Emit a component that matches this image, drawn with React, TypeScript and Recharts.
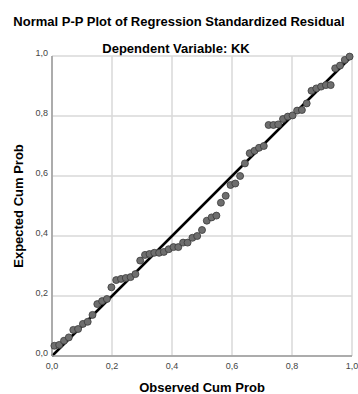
import { ScatterChart, Scatter, XAxis, YAxis, CartesianGrid, ReferenceLine, Label } from 'recharts';

const observedCumProb = [
  0.008, 0.024, 0.040, 0.056, 0.071, 0.087, 0.103, 0.119, 0.135, 0.151,
  0.167, 0.183, 0.198, 0.214, 0.230, 0.246, 0.262, 0.278, 0.294, 0.310,
  0.325, 0.341, 0.357, 0.373, 0.389, 0.405, 0.421, 0.437, 0.452, 0.468,
  0.484, 0.500, 0.516, 0.532, 0.548, 0.563, 0.579, 0.595, 0.611, 0.627,
  0.643, 0.659, 0.675, 0.690, 0.706, 0.722, 0.738, 0.754, 0.770, 0.786,
  0.802, 0.817, 0.833, 0.849, 0.865, 0.881, 0.897, 0.913, 0.929, 0.944,
  0.960, 0.976, 0.992,
];

const expectedCumProb = [
  0.034, 0.037, 0.051, 0.062, 0.087, 0.090, 0.107, 0.114, 0.137, 0.173,
  0.183, 0.190, 0.229, 0.253, 0.257, 0.260, 0.263, 0.273, 0.318, 0.337,
  0.340, 0.344, 0.344, 0.347, 0.356, 0.363, 0.363, 0.378, 0.378, 0.394,
  0.400, 0.420, 0.451, 0.462, 0.468, 0.511, 0.534, 0.570, 0.575, 0.600,
  0.642, 0.676, 0.684, 0.694, 0.700, 0.770, 0.770, 0.772, 0.790, 0.798,
  0.802, 0.818, 0.820, 0.842, 0.884, 0.892, 0.898, 0.903, 0.903, 0.959,
  0.968, 0.987, 0.998,
];

const axisTicks = [0, 0.2, 0.4, 0.6, 0.8, 1.0];

const points = observedCumProb.map((x, i) => ({ x, y: expectedCumProb[i] }));

const fmt = (v: number) => v.toFixed(1).replace('.', ',');

const font = '"Liberation Sans", Arial, sans-serif';

export default function App() {
  return (
    <div style={{ position: 'relative', width: 358, height: 394, background: '#fff', fontFamily: font }}>
      <style>{'body{margin:0}'}</style>
      <div style={{ position: 'absolute', top: 14, left: 0, width: 358, textAlign: 'center', fontSize: 13, fontWeight: 'bold', color: '#000' }}>
        Normal P-P Plot of Regression Standardized Residual
      </div>
      <div style={{ position: 'absolute', top: 41, left: 0, width: 352, textAlign: 'center', fontSize: 13, fontWeight: 'bold', color: '#000' }}>
        Dependent Variable: KK
      </div>
      <ScatterChart width={358} height={394} margin={{ top: 56, right: 6, left: 0, bottom: 0 }}>
        <CartesianGrid stroke="#d9d9d9" strokeWidth={1.5} horizontalValues={axisTicks} verticalValues={axisTicks} />
        <XAxis
          type="number"
          dataKey="x"
          domain={[0, 1]}
          ticks={axisTicks}
          tickFormatter={fmt}
          height={38}
          tickLine={false}
          tickSize={0}
          tickMargin={7}
          axisLine={{ stroke: '#9a9a9a', strokeWidth: 1.5 }}
          tick={{ fill: '#444', fontSize: 9, fontFamily: font }}
        >
          <Label value="Observed Cum Prob" position="insideBottom" offset={0} dy={-2} style={{ fontSize: 13, fontWeight: 'bold', fill: '#000', fontFamily: font }} />
        </XAxis>
        <YAxis
          type="number"
          dataKey="y"
          domain={[0, 1]}
          ticks={axisTicks}
          tickFormatter={fmt}
          width={52}
          tickLine={false}
          tickSize={0}
          tickMargin={4}
          axisLine={{ stroke: '#9a9a9a', strokeWidth: 1.5 }}
          tick={{ fill: '#444', fontSize: 9, fontFamily: font, dy: -3 }}
        >
          <Label value="Expected Cum Prob" angle={-90} position="insideLeft" offset={18} style={{ fontSize: 13, fontWeight: 'bold', fill: '#000', fontFamily: font, textAnchor: 'middle' }} />
        </YAxis>
        <Scatter
          data={points}
          fill="#6e6e6e"
          stroke="#3a3a3a"
          strokeWidth={0.8}
          shape={(p: any) => <circle cx={p.cx} cy={p.cy} r={3.5} fill="#6e6e6e" stroke="#3a3a3a" strokeWidth={0.8} />}
          isAnimationActive={false}
        />
        <ReferenceLine segment={[{ x: 0, y: 0 }, { x: 1, y: 1 }]} stroke="#000" strokeWidth={2.5} />
      </ScatterChart>
    </div>
  );
}
